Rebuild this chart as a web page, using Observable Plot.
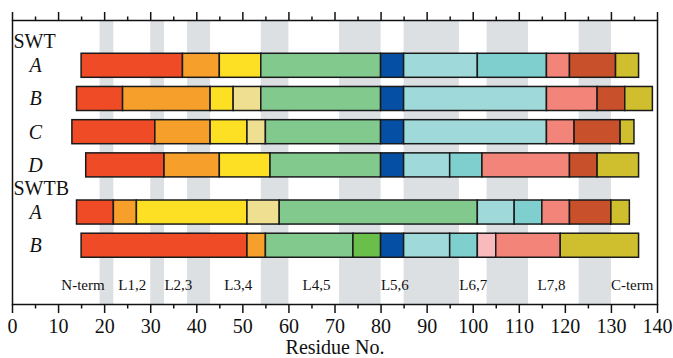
<!DOCTYPE html>
<html><head><meta charset="utf-8">
<script src="https://cdn.jsdelivr.net/npm/d3@7"></script>
<script src="https://cdn.jsdelivr.net/npm/@observablehq/plot@0.6"></script>
<style>html,body{margin:0;padding:0;background:#fff;} svg{display:block}</style>
</head><body><div id="chart"></div>
<script>
// ---- data (residue numbers) ----
const groupNames = ["SWT", "SWTB"];
const groupRows = [["A", "B", "C", "D"], ["A", "B"]];

const swtA_breaks = [15, 37, 45, 54, 80, 85, 101, 116, 121, 131, 136];
const swtA_parts  = ["red", "orange", "yellow", "green", "blue", "cyan", "teal", "salmon", "rust", "olive"];
const swtB_breaks = [14, 24, 43, 48, 54, 80, 85, 116, 127, 133, 139];
const swtB_parts  = ["red", "orange", "yellow", "khaki", "green", "blue", "cyan", "salmon", "rust", "olive"];
const swtC_breaks = [13, 31, 43, 51, 55, 80, 85, 116, 122, 132, 135];
const swtC_parts  = ["red", "orange", "yellow", "khaki", "green", "blue", "cyan", "salmon", "rust", "olive"];
const swtD_breaks = [16, 33, 45, 56, 80, 85, 95, 102, 121, 127, 136];
const swtD_parts  = ["red", "orange", "yellow", "green", "blue", "cyan", "teal", "salmon", "rust", "olive"];
const swtbA_breaks = [14, 22, 27, 51, 58, 101, 109, 115, 121, 130, 134];
const swtbA_parts  = ["red", "orange", "yellow", "khaki", "green", "cyan", "teal", "salmon", "rust", "olive"];
const swtbB_breaks = [15, 51, 55, 74, 80, 85, 95, 101, 105, 119, 136];
const swtbB_parts  = ["red", "orange", "green", "lime", "blue", "cyan", "teal", "pink", "salmon", "olive"];

const bandStarts = [19, 30, 38, 54, 71, 85, 103, 123];
const bandEnds   = [22, 33, 43, 60, 80, 97, 112, 130];

const termLabels = ["N-term", "L1,2", "L2,3", "L3,4", "L4,5", "L5,6", "L6,7", "L7,8", "C-term"];
const termCenters = [15.3, 26, 36, 49, 66, 83, 100, 117, 134.5];

const xTicks = d3.range(0, 141, 10);
const xMinorTicks = d3.range(5, 140, 10);

// ---- styling ----
const partNames  = ["red", "orange", "yellow", "khaki", "green", "lime", "blue", "cyan", "teal", "pink", "salmon", "rust", "olive"];
const partColors = ["#ee4b26", "#f69f2a", "#fde024", "#efdf91", "#82c98e", "#6abf4b", "#0550a4", "#9fd9da", "#7fcfcf", "#f8babd", "#f38479", "#c8502a", "#cfbf2e"];
const FONT = "Liberation Serif, Times New Roman, serif";
const GAP = 0.42;   // extra spacing between groups (in row units)
const HALF = 0.362; // half bar height (row units)

const rowData = [
  [swtA_breaks, swtA_parts], [swtB_breaks, swtB_parts], [swtC_breaks, swtC_parts], [swtD_breaks, swtD_parts],
  [swtbA_breaks, swtbA_parts], [swtbB_breaks, swtbB_parts]
];

const rows = [];
const headers = [];
let idx = 0;
groupNames.forEach((g, gi) => {
  groupRows[gi].forEach((lab, ri) => {
    const pos = idx + gi * GAP;
    if (ri === 0) headers.push({name: g, pos: pos - 0.72});
    rows.push({label: lab, pos, breaks: rowData[idx][0], parts: rowData[idx][1]});
    idx++;
  });
});
const segs = rows.flatMap(r => r.parts.map((p, k) => ({x1: r.breaks[k], x2: r.breaks[k + 1], pos: r.pos, part: p})));
const bands = bandStarts.map((s, i) => ({s, e: bandEnds[i]}));
const terms = termLabels.map((t, i) => ({t, x: termCenters[i]}));
const lastPos = rows[rows.length - 1].pos;
const yDom = [-1.364, 7.19];

const chart = Plot.plot({
  width: 673, height: 358,
  marginTop: 20, marginBottom: 54, marginLeft: 12, marginRight: 16,
  style: {fontFamily: FONT, fontSize: "20px", color: "#111", background: "#fff"},
  x: {domain: [0, 140]},
  y: {domain: yDom, reverse: true, axis: null},
  color: {domain: partNames, range: partColors},
  marks: [
    Plot.rect(bands, {x1: "s", x2: "e", y1: () => yDom[0], y2: () => yDom[1], fill: "#dde0e3"}),
    Plot.rect(segs, {x1: "x1", x2: "x2", y1: d => d.pos - HALF, y2: d => d.pos + HALF, fill: "part", stroke: "#1a1a1a", strokeWidth: 1.5}),
    Plot.text(headers, {frameAnchor: "left", y: "pos", text: "name", textAnchor: "start", dx: 1, fontSize: 20}),
    Plot.text(rows, {x: () => 5, y: "pos", text: "label", fontStyle: "italic", fontSize: 20}),
    Plot.text(terms, {x: "x", y: () => lastPos + 1.2, text: "t", fontSize: 15}),
    Plot.text(["Residue No."], {frameAnchor: "bottom", lineAnchor: "middle", dy: 43, text: d => d, fontSize: 20}),
    Plot.frame({stroke: "#111", strokeWidth: 1.5}),
    Plot.axisX({anchor: "bottom", ticks: xTicks, tickSize: 9, tickPadding: 5, fontSize: 20, label: null, tickFormat: d => String(d), strokeWidth: 1.5}),
    Plot.axisX({anchor: "bottom", ticks: xMinorTicks, tickSize: 4.5, label: null, tickFormat: () => "", strokeWidth: 1.5}),
    Plot.axisX({anchor: "top", ticks: xTicks, tickSize: 9, label: null, tickFormat: () => "", strokeWidth: 1.5}),
    Plot.axisX({anchor: "top", ticks: xMinorTicks, tickSize: 4.5, label: null, tickFormat: () => "", strokeWidth: 1.5})
  ]
});
document.getElementById("chart").appendChild(chart);
</script>
</body></html>
